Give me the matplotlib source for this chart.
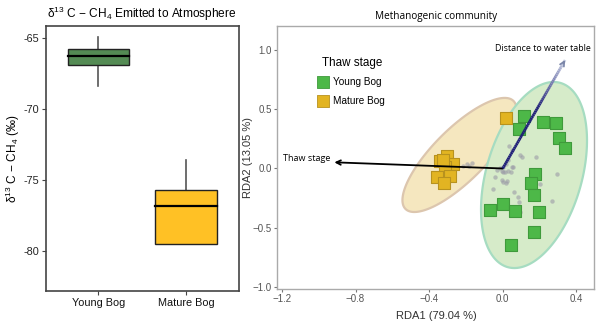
import matplotlib
matplotlib.use("Agg")
import matplotlib.pyplot as plt
import numpy as np
from matplotlib.collections import LineCollection

plt.rcParams['font.family'] = ['Liberation Sans', 'DejaVu Sans']
plt.rcParams['mathtext.fontset'] = 'custom'
plt.rcParams['mathtext.rm'] = 'Liberation Sans'
plt.rcParams['mathtext.it'] = 'Liberation Sans:italic'

# --- isotope box plot (per-mil) ---
bog_types = ['Young Bog', 'Mature Bog']
box_colors = ['#548B54', '#FFC125']
whisker_low = [-68.4, -79.5]
q1 = [-66.9, -79.5]
medians = [-66.3, -76.8]
q3 = [-65.8, -75.7]
whisker_high = [-64.95, -73.6]

# --- RDA site scores ---
young_x = [0.114, 0.090, 0.219, 0.290, 0.306, 0.339, 0.174, 0.152, 0.168,
           -0.071, 0.003, 0.065, 0.199, 0.168, 0.047]
young_y = [0.442, 0.333, 0.394, 0.381, 0.259, 0.175, -0.049, -0.125, -0.223,
           -0.350, -0.299, -0.356, -0.364, -0.537, -0.647]
mature_x = [0.016, -0.304, -0.341, -0.272, -0.314, -0.359, -0.286, -0.319, -0.325]
mature_y = [0.428, 0.108, 0.066, 0.035, 0.015, -0.069, -0.061, -0.125, 0.070]

# species scores
species_x = [0.036, 0.094, 0.103, 0.181, 0.058, 0.003, -0.005, 0.013, 0.043,
             0.049, -0.042, 0.003, 0.018, 0.022, -0.051, 0.063, 0.085, 0.090,
             0.203, 0.297, 0.266, 0.094, 0.079, -0.183, -0.168, -0.214, -0.196,
             0.030, 0.000, -0.005, -0.033, 0.027, 0.050, -0.015, 0.018]
species_y = [0.192, 0.114, 0.099, 0.094, 0.015, 0.015, -0.019, -0.032, -0.032,
             0.015, -0.069, -0.111, -0.125, -0.103, -0.173, -0.195, -0.243, -0.280,
             -0.131, -0.049, -0.271, -0.364, -0.335, 0.021, 0.044, 0.021, 0.038,
             -0.019, -0.027, -0.097, -0.013, 0.072, 0.156, 0.004, 0.038]

# 95% ellipses: centre and two conjugate half-axis vectors
young_ell = [(0.170, -0.055), (0.1435, 0.776), (0.2497, -0.111)]
mature_ell = [(-0.235, 0.114), (0.2934, 0.455), (0.100, -0.155)]

# environmental vectors
thaw_vec = (-0.915, 0.052)
water_vec = (0.339, 0.914)

fig = plt.figure(figsize=(6.0, 3.26), dpi=100)

# ---------------- left: box plot ----------------
ax1 = fig.add_axes([0.0762, 0.1083, 0.3217, 0.812])
pos = [1, 2]
for i in range(2):
    ax1.plot([pos[i], pos[i]], [whisker_low[i], q1[i]], color='#555555', lw=1.2, zorder=1)
    ax1.plot([pos[i], pos[i]], [q3[i], whisker_high[i]], color='#555555', lw=1.2, zorder=1)
    ax1.add_patch(plt.Rectangle((pos[i] - 0.35, q1[i]), 0.7, q3[i] - q1[i],
                                facecolor=box_colors[i], edgecolor='#222222', lw=1.0, zorder=2))
    ax1.plot([pos[i] - 0.35, pos[i] + 0.35], [medians[i], medians[i]], color='black', lw=1.6, zorder=3)
ax1.set_xlim(0.4, 2.6)
ax1.set_ylim(-82.8, -64.15)
ax1.set_xticks(pos)
ax1.set_xticklabels(bog_types, fontsize=7.8, color='#111111')
ax1.set_yticks([-65, -70, -75, -80])
ax1.set_yticklabels(['-65', '-70', '-75', '-80'], fontsize=7.8, color='#222222')
ax1.tick_params(length=3, color='#444444', pad=2)
for s in ax1.spines.values():
    s.set_color('#444444')
    s.set_linewidth(1.2)
ax1.set_title('δ$^{13}$ C − CH$_4$ Emitted to Atmosphere', fontsize=8.6, pad=6)
ax1.set_ylabel('δ$^{13}$ C − CH$_4$ (‰)', fontsize=8.6)
ax1.yaxis.set_label_coords(-0.125, 0.5)

# ---------------- right: RDA biplot ----------------
ax2 = fig.add_axes([0.4622, 0.1144, 0.5278, 0.8067])
t = np.linspace(0, 2 * np.pi, 200)
for ell, fc, ec in [(mature_ell, '#F5E7BF', '#DCC6AE'), (young_ell, '#D6EBC9', '#A6DCC1')]:
    (cx, cy), (ax_, ay_), (bx_, by_) = ell
    ex = cx + np.cos(t) * ax_ + np.sin(t) * bx_
    ey = cy + np.cos(t) * ay_ + np.sin(t) * by_
    ax2.fill(ex, ey, facecolor=fc, edgecolor=ec, lw=1.6, zorder=1)

ax2.scatter(species_x, species_y, s=10, color='#9a9aa6', alpha=0.6, lw=0, zorder=2)

ax2.scatter(young_x, young_y, marker='s', s=80, facecolor='#4DB848',
            edgecolor='#3F9A3B', lw=0.8, zorder=4)
ax2.scatter(mature_x, mature_y, marker='s', s=80, facecolor='#E2B422',
            edgecolor='#B8921E', lw=0.8, zorder=4)

# thaw stage arrow
ax2.annotate('', xy=thaw_vec, xytext=(0, 0),
             arrowprops=dict(arrowstyle='->', color='black', lw=1.3,
                             mutation_scale=8, shrinkA=0, shrinkB=0), zorder=5)
ax2.text(thaw_vec[0] - 0.02, thaw_vec[1] + 0.035, 'Thaw stage', ha='right', va='center',
         fontsize=6.5, family='Open Sans', zorder=6)

# water table arrow, fading towards the tip
n = 60
fr = np.linspace(0, 1, n + 1)
xs = water_vec[0] * fr
ys = water_vec[1] * fr
segs = [[(xs[k], ys[k]), (xs[k + 1], ys[k + 1])] for k in range(n)]
navy = np.array([0.12, 0.12, 0.47])
light = np.array([0.80, 0.83, 0.90])
cols = []
for k in range(n):
    f = max(0.0, (fr[k] - 0.55) / 0.45)
    cols.append(tuple(navy * (1 - f) + light * f))
ax2.add_collection(LineCollection(segs, colors=cols, lw=2.0, zorder=5))
ax2.annotate('', xy=water_vec, xytext=(water_vec[0] * 0.97, water_vec[1] * 0.97),
             arrowprops=dict(arrowstyle='->', color='#7a85a8', lw=1.2,
                             mutation_scale=8, shrinkA=0, shrinkB=0), zorder=5)
ax2.text(0.219, 1.01, 'Distance to water table', ha='center', va='center',
         fontsize=6.4, family='Open Sans', zorder=6)

ax2.set_xlim(-1.225, 0.496)
ax2.set_ylim(-1.013, 1.203)
ax2.set_xticks([-1.2, -0.8, -0.4, 0.0, 0.4])
ax2.set_xticklabels(['−1.2', '−0.8', '−0.4', '0.0', '0.4'])
ax2.set_yticks([1.0, 0.5, 0.0, -0.5, -1.0])
ax2.set_yticklabels(['1.0', '0.5', '0.0', '−0.5', '−1.0'])
ax2.tick_params(labelsize=7, labelcolor='#555555', color='#777777', length=2.5, pad=1.5)
for s in ax2.spines.values():
    s.set_color('#aaaaaa')
    s.set_linewidth(1.0)
ax2.set_title('Methanogenic community', fontsize=7.2, family='Open Sans', pad=5)
ax2.set_xlabel('RDA1 (79.04 %)', fontsize=8, color='#333333')
ax2.xaxis.set_label_coords(0.503, -0.085)
ax2.set_ylabel('RDA2 (13.05 %)', fontsize=8, color='#333333')
ax2.yaxis.set_label_coords(-0.077, 0.5)

# legend
ax2.text(0.140, 0.859, 'Thaw stage', transform=ax2.transAxes, fontsize=8.4,
         ha='left', va='center')
ax2.scatter([0.145], [0.787], transform=ax2.transAxes, marker='s', s=85,
            facecolor='#4DB848', edgecolor='#3F9A3B', lw=0.6, clip_on=False)
ax2.scatter([0.145], [0.714], transform=ax2.transAxes, marker='s', s=85,
            facecolor='#E2B422', edgecolor='#B8921E', lw=0.6, clip_on=False)
ax2.text(0.177, 0.787, 'Young Bog', transform=ax2.transAxes, fontsize=7.2, va='center')
ax2.text(0.177, 0.714, 'Mature Bog', transform=ax2.transAxes, fontsize=7.2, va='center')

fig.savefig('out.png', dpi=100)
